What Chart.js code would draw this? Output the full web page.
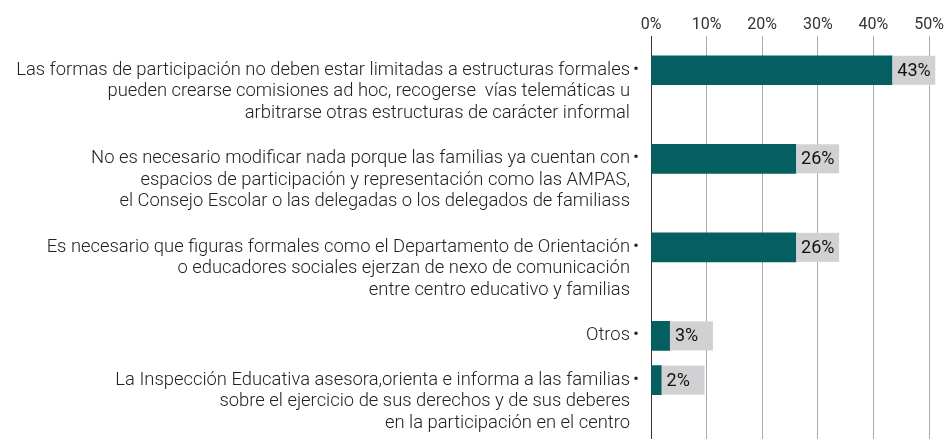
<!DOCTYPE html>
<html>
<head>
<meta charset="utf-8">
<script src="https://cdn.jsdelivr.net/npm/chart.js@4"></script>
<style>
  html, body { margin: 0; padding: 0; background: #fff; }
  #wrap { width: 948px; height: 439px; }
</style>
</head>
<body>
<div id="wrap"><canvas id="grafico" width="948" height="439"></canvas></div>
<script>
// categorías (cada línea es una línea del texto)
const categorias = [
  ["Las formas de participación no deben estar limitadas a estructuras formales",
   "pueden crearse comisiones ad hoc, recogerse  vías telemáticas u",
   "arbitrarse otras estructuras de carácter informal"],
  ["No es necesario modificar nada porque las familias ya cuentan con",
   "espacios de participación y representación como las AMPAS,",
   "el Consejo Escolar o las delegadas o los delegados de familiass"],
  ["Es necesario que figuras formales como el Departamento de Orientación",
   "o educadores sociales ejerzan de nexo de comunicación",
   "entre centro educativo y familias"],
  ["Otros"],
  ["La Inspección Educativa asesora,orienta e informa a las familias",
   "sobre el ejercicio de sus derechos y de sus deberes",
   "en la participación en el centro"]
];
const valores = [43.4, 26.1, 26.1, 3.4, 1.9];
const ticksX = [0, 10, 20, 30, 40, 50];

// posición vertical de cada categoría según el número de líneas del texto
const posiciones = [];
let acum = 0;
categorias.forEach(function (lineas) {
  posiciones.push(acum);
  acum += lineas.length + 1;
});

const FUENTE = "Roboto";
const COLOR_BARRA = "#055f60";

const etiquetasPlugin = {
  id: "etiquetas",
  afterDatasetsDraw(chart) {
    const ctx = chart.ctx;
    const meta = chart.getDatasetMeta(0);
    ctx.save();
    meta.data.forEach(function (bar, i) {
      const h = bar.height;
      const x0 = bar.x;
      ctx.fillStyle = "#d1d1d3";
      ctx.fillRect(x0, bar.y - h / 2, 43, h);
      ctx.fillStyle = "#111";
      ctx.font = "18px " + FUENTE;
      ctx.textAlign = "left";
      ctx.textBaseline = "middle";
      ctx.fillText(Math.round(valores[i]) + "%", x0 + 5, bar.y + 1);
    });
    ctx.restore();
  },
  afterDraw(chart) {
    const ctx = chart.ctx;
    const y = chart.scales.y;
    const derecha = chart.chartArea.left - 21;
    ctx.save();
    ctx.fillStyle = "#222";
    ctx.font = "300 18.4px " + FUENTE;
    ctx.textBaseline = "middle";
    categorias.forEach(function (lineas, i) {
      const py = y.getPixelForValue(posiciones[i]);
      lineas.forEach(function (t, j) {
        ctx.textAlign = "right";
        ctx.fillText(t, derecha, py + j * 21.5);
      });
      ctx.textAlign = "center";
      ctx.fillText("•", derecha + 6, py);
    });
    ctx.restore();
  }
};

new Chart(document.getElementById("grafico"), {
  type: "bar",
  data: {
    datasets: [{
      data: valores.map(function (v, i) { return { x: v, y: posiciones[i] }; }),
      backgroundColor: COLOR_BARRA,
      barThickness: 29
    }]
  },
  options: {
    indexAxis: "y",
    responsive: false,
    animation: false,
    layout: { padding: { left: 651, right: 19, top: 13, bottom: 0 } },
    plugins: { legend: { display: false }, tooltip: { enabled: false } },
    scales: {
      x: {
        type: "linear",
        position: "top",
        min: 0,
        max: 50,
        afterBuildTicks(scale) { scale.ticks = ticksX.map(function (v) { return { value: v }; }); },
        border: { display: false },
        grid: {
          drawTicks: false,
          color(c) { return c.tick && c.tick.value === 0 ? "#333" : "#aaa"; }
        },
        ticks: {
          padding: 2,
          color: "#333",
          font: { family: FUENTE, size: 16 },
          callback(v) { return v + "%"; }
        }
      },
      y: {
        type: "linear",
        display: false,
        reverse: true,
        offset: false,
        min: -1.54,
        max: 16.66
      }
    }
  },
  plugins: [etiquetasPlugin]
});
</script>
</body>
</html>
